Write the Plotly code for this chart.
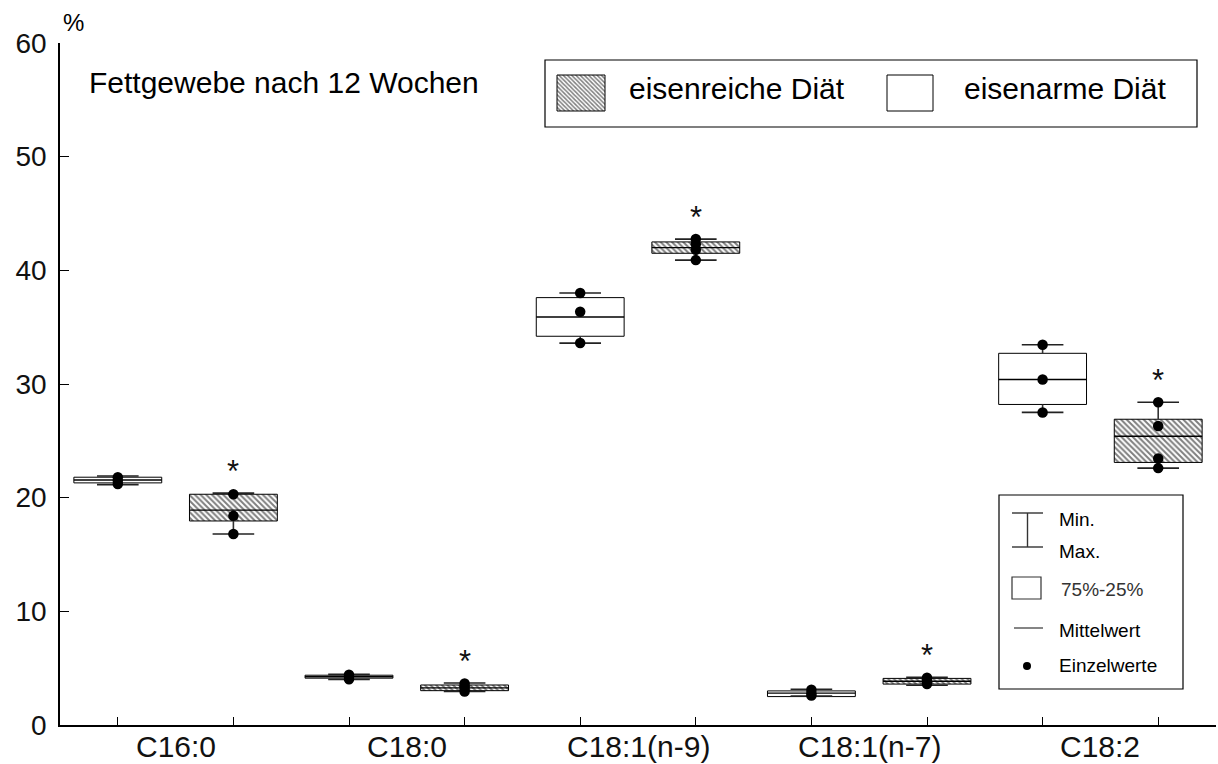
import plotly.graph_objects as go

# Fatty acid composition of adipose tissue (%), two diets, per fatty acid
categories = ["C16:0", "C18:0", "C18:1(n-9)", "C18:1(n-7)", "C18:2"]

# eisenarme Diät (white boxes)
low_q25 = [21.3, 4.12, 34.2, 2.5, 28.2]
low_q75 = [21.8, 4.38, 37.6, 3.0, 32.7]
low_mean = [21.55, 4.25, 35.9, 2.8, 30.4]
low_min = [21.15, 4.0, 33.6, 2.55, 27.5]
low_max = [21.9, 4.45, 38.0, 3.15, 33.45]
low_points = [[21.2, 21.5, 21.8], [4.02, 4.25, 4.42], [33.6, 36.35, 38.0],
              [2.6, 2.8, 3.1], [27.5, 30.4, 33.45]]

# eisenreiche Diät (hatched boxes)
high_q25 = [17.95, 3.02, 41.5, 3.6, 23.1]
high_q75 = [20.3, 3.52, 42.5, 4.1, 26.9]
high_mean = [18.9, 3.27, 42.0, 3.85, 25.4]
high_min = [16.8, 2.95, 40.9, 3.5, 22.6]
high_max = [20.4, 3.7, 42.75, 4.2, 28.4]
high_points = [[16.8, 18.4, 20.3], [2.95, 3.2, 3.4, 3.65], [40.9, 41.8, 42.3, 42.75],
               [3.6, 3.75, 3.95, 4.15], [22.6, 23.45, 26.3, 28.4]]

significant = [True, True, True, True, True]  # eisenreich vs. eisenarm

y_ticks = [0, 10, 20, 30, 40, 50, 60]

FONT = "Liberation Sans, Arial, sans-serif"
BOX_W = 0.76
CAP_HALF = 0.18
STAR_OFFSET = 2.4

low_pos = [2 * i + 1 for i in range(len(categories))]
high_pos = [2 * i + 2 for i in range(len(categories))]

fig = go.Figure()


def add_group(pos, q25, q75, mean, vmin, vmax, points, hatched):
    # whiskers (drawn first so the box covers them)
    wx, wy = [], []
    for p, a, b, lo, hi in zip(pos, q25, q75, vmin, vmax):
        wx += [p, p, None, p, p, None]
        wy += [b, hi, None, a, lo, None]
    fig.add_trace(go.Scatter(x=wx, y=wy, mode="lines",
                             line=dict(color="#333333", width=1.6),
                             hoverinfo="skip", showlegend=False))
    # interquartile box
    pattern = dict(shape="\\", fgcolor="black", bgcolor="white",
                   size=4, solidity=0.5) if hatched else dict(shape="")
    fig.add_trace(go.Bar(x=pos, y=[b - a for a, b in zip(q25, q75)], base=q25,
                         width=BOX_W,
                         marker=dict(color="white", pattern=pattern,
                                     line=dict(color="black", width=1)),
                         hoverinfo="skip", showlegend=False))
    # caps at min / max
    cx, cy = [], []
    for p, lo, hi in zip(pos, vmin, vmax):
        cx += [p - CAP_HALF, p + CAP_HALF, None, p - CAP_HALF, p + CAP_HALF, None]
        cy += [hi, hi, None, lo, lo, None]
    fig.add_trace(go.Scatter(x=cx, y=cy, mode="lines",
                             line=dict(color="#222222", width=1.6),
                             hoverinfo="skip", showlegend=False))
    # mean line
    mx, my = [], []
    for p, m in zip(pos, mean):
        mx += [p - BOX_W / 2, p + BOX_W / 2, None]
        my += [m, m, None]
    fig.add_trace(go.Scatter(x=mx, y=my, mode="lines",
                             line=dict(color="black", width=1.4),
                             hoverinfo="skip", showlegend=False))
    # individual values
    px, py = [], []
    for p, vals in zip(pos, points):
        px += [p] * len(vals)
        py += vals
    fig.add_trace(go.Scatter(x=px, y=py, mode="markers",
                             marker=dict(color="black", size=10.5),
                             hoverinfo="skip", showlegend=False))


add_group(low_pos, low_q25, low_q75, low_mean, low_min, low_max, low_points, False)
add_group(high_pos, high_q25, high_q75, high_mean, high_min, high_max, high_points, True)

# significance stars
for p, hi, sig in zip(high_pos, high_max, significant):
    if sig:
        fig.add_annotation(x=p, y=hi + STAR_OFFSET, text="*", showarrow=False,
                           xref="x", yref="y", yanchor="middle", yshift=-6,
                           font=dict(family=FONT, size=31, color="#111111"))

# category labels below the axis
for i, c in enumerate(categories):
    fig.add_annotation(x=(low_pos[i] + high_pos[i]) / 2, y=-0.031, xref="x", yref="paper",
                       text=c, showarrow=False, yanchor="middle",
                       font=dict(family=FONT, size=30, color="#111111"))

# ---- layout geometry (pixels -> paper) ----
L, T, R, B = 60, 43, 2, 39
W = 1218 - L - R
H = 764 - T - B


def fx(px):
    return (px - L) / W


def fy(py):
    return (764 - B - py) / H


shapes = []
# top legend frame
shapes.append(dict(type="rect", xref="paper", yref="paper",
                   x0=fx(545), x1=fx(1197), y0=fy(127), y1=fy(60),
                   line=dict(color="black", width=1.2), fillcolor="white", layer="below"))
# white swatch
shapes.append(dict(type="rect", xref="paper", yref="paper",
                   x0=fx(887), x1=fx(933), y0=fy(111), y1=fy(75),
                   line=dict(color="black", width=1), fillcolor="white"))
# key frame (lower right)
shapes.append(dict(type="rect", xref="paper", yref="paper",
                   x0=fx(999), x1=fx(1183), y0=fy(689), y1=fy(495),
                   line=dict(color="black", width=1.2), fillcolor="white", layer="below"))
# I-bar symbol
shapes.append(dict(type="line", xref="paper", yref="paper",
                   x0=fx(1027.5), x1=fx(1027.5), y0=fy(513), y1=fy(547),
                   line=dict(color="#333333", width=1.4)))
for yy in (513, 547):
    shapes.append(dict(type="line", xref="paper", yref="paper",
                       x0=fx(1012), x1=fx(1043), y0=fy(yy), y1=fy(yy),
                       line=dict(color="#333333", width=1.4)))
# box symbol
shapes.append(dict(type="rect", xref="paper", yref="paper",
                   x0=fx(1012), x1=fx(1041), y0=fy(599), y1=fy(577),
                   line=dict(color="#333333", width=1.2), fillcolor="white"))
# mean-line symbol
shapes.append(dict(type="line", xref="paper", yref="paper",
                   x0=fx(1014), x1=fx(1043), y0=fy(628), y1=fy(628),
                   line=dict(color="#333333", width=1.2)))

# hatched swatch and dot symbol drawn on an overlay axis in paper-like units
fig.add_trace(go.Bar(x=[(fx(557) + fx(605)) / 2], y=[fy(75) - fy(111)], base=[fy(111)],
                     width=[fx(605) - fx(557)], xaxis="x2", yaxis="y2",
                     marker=dict(color="white",
                                 pattern=dict(shape="\\", fgcolor="black", bgcolor="white",
                                              size=3, solidity=0.5),
                                 line=dict(color="black", width=1)),
                     hoverinfo="skip", showlegend=False))
fig.add_trace(go.Scatter(x=[fx(1027)], y=[fy(666)], mode="markers", xaxis="x2", yaxis="y2",
                         marker=dict(color="black", size=8), hoverinfo="skip",
                         showlegend=False))

ann = [
    dict(text="Fettgewebe nach 12 Wochen", x=fx(87), y=fy(83), size=30),
    dict(text="eisenreiche Diät", x=fx(627), y=fy(88), size=30),
    dict(text="eisenarme Diät", x=fx(962), y=fy(88), size=30),
    dict(text="Min.", x=fx(1057), y=fy(519), size=19),
    dict(text="Max.", x=fx(1057), y=fy(551), size=19),
    dict(text="75%-25%", x=fx(1059), y=fy(589), size=19, color="#333333"),
    dict(text="Mittelwert", x=fx(1057), y=fy(630), size=19),
    dict(text="Einzelwerte", x=fx(1057), y=fy(665), size=19),
]
for a in ann:
    fig.add_annotation(text=a["text"], x=a["x"], y=a["y"], xref="paper", yref="paper",
                       xanchor="left", yanchor="middle", showarrow=False,
                       font=dict(family=FONT, size=a["size"], color=a.get("color", "black")))

# unit label
fig.add_annotation(text="%", x=fx(73), y=fy(22), xref="paper", yref="paper",
                   xanchor="center", yanchor="middle", showarrow=False,
                   font=dict(family=FONT, size=24, color="black"))

fig.update_layout(
    width=1218, height=764,
    margin=dict(l=L, r=R, t=T, b=B),
    paper_bgcolor="white", plot_bgcolor="white",
    barmode="overlay",
    shapes=shapes,
    xaxis=dict(range=[0.5, 10.5], tickvals=low_pos + high_pos, showticklabels=False,
               ticks="inside", ticklen=8, tickcolor="black", tickwidth=1,
               showline=True, linecolor="black", linewidth=1.5,
               showgrid=False, zeroline=False, fixedrange=True),
    yaxis=dict(range=[0, 60], tickvals=y_ticks, ticks="inside", ticklen=9,
               tickcolor="black", tickwidth=1, showline=True, linecolor="black",
               linewidth=1.5, showgrid=False, zeroline=False,
               tickfont=dict(family=FONT, size=28, color="#111111"),
               ticklabelstandoff=6, fixedrange=True),
    xaxis2=dict(overlaying="x", range=[0, 1], visible=False, fixedrange=True),
    yaxis2=dict(overlaying="y", range=[0, 1], visible=False, fixedrange=True),
    font=dict(family=FONT, color="black"),
)

fig.write_html("out.html")
